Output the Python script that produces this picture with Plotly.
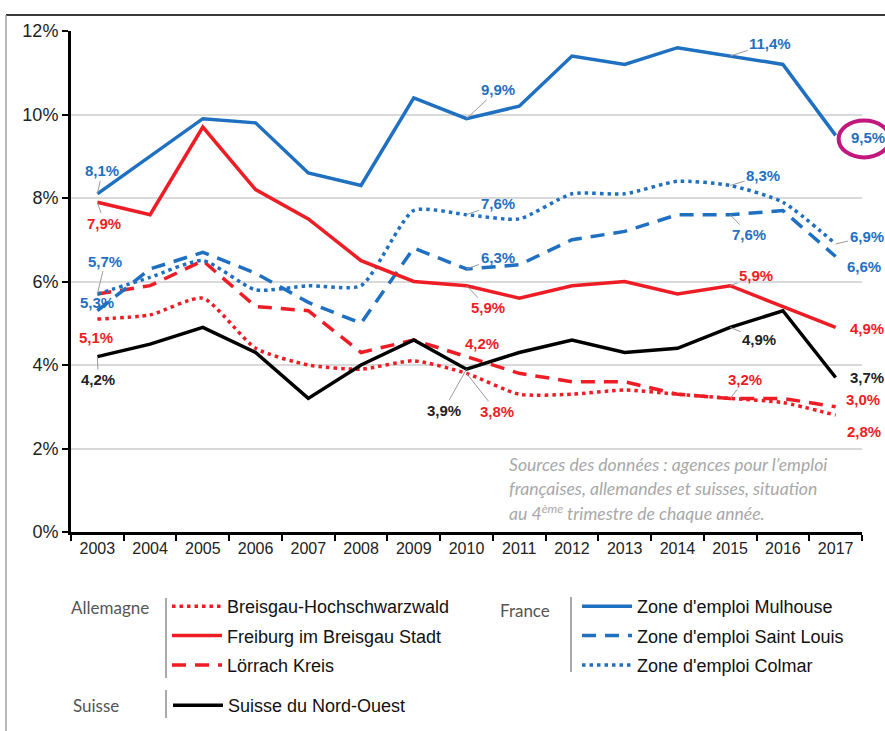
import plotly.graph_objects as go

# ---- data -------------------------------------------------------------
years = ["2003", "2004", "2005", "2006", "2007", "2008", "2009", "2010",
         "2011", "2012", "2013", "2014", "2015", "2016", "2017"]

breisgau = [5.1, 5.2, 5.6, 4.4, 4.0, 3.9, 4.1, 3.8, 3.3, 3.3, 3.4, 3.3, 3.2, 3.1, 2.8]
freiburg = [7.9, 7.6, 9.7, 8.2, 7.5, 6.5, 6.0, 5.9, 5.6, 5.9, 6.0, 5.7, 5.9, 5.4, 4.9]
loerrach = [5.7, 5.9, 6.5, 5.4, 5.3, 4.3, 4.6, 4.2, 3.8, 3.6, 3.6, 3.3, 3.2, 3.2, 3.0]
mulhouse = [8.1, 9.0, 9.9, 9.8, 8.6, 8.3, 10.4, 9.9, 10.2, 11.4, 11.2, 11.6, 11.4, 11.2, 9.5]
saint_louis = [5.3, 6.3, 6.7, 6.2, 5.5, 5.0, 6.8, 6.3, 6.4, 7.0, 7.2, 7.6, 7.6, 7.7, 6.6]
colmar = [5.7, 6.1, 6.5, 5.8, 5.9, 5.9, 7.7, 7.6, 7.5, 8.1, 8.1, 8.4, 8.3, 7.9, 6.9]
suisse = [4.2, 4.5, 4.9, 4.3, 3.2, 4.0, 4.6, 3.9, 4.3, 4.6, 4.3, 4.4, 4.9, 5.3, 3.7]

y_ticks = [0, 2, 4, 6, 8, 10, 12]

group_names = ["Allemagne", "France", "Suisse"]
source_lines = [
    "Sources des données : agences pour l’emploi",
    "françaises, allemandes et suisses, situation",
    "au 4<sup>ème</sup> trimestre de chaque année.",
]

BLUE = "#1f70c1"
RED = "#ee1d25"
BLACK = "#000000"

# name, values, colour, dash, shape, legend
series = {
    "breisgau": ("Breisgau-Hochschwarzwald", breisgau, RED, "3.5px,4px", "spline", "legend"),
    "freiburg": ("Freiburg im Breisgau Stadt", freiburg, RED, "solid", "linear", "legend"),
    "loerrach": ("Lörrach Kreis", loerrach, RED, "14px,9px", "linear", "legend"),
    "mulhouse": ("Zone d'emploi Mulhouse", mulhouse, BLUE, "solid", "linear", "legend2"),
    "saint_louis": ("Zone d'emploi Saint Louis", saint_louis, BLUE, "14px,9px", "linear", "legend2"),
    "colmar": ("Zone d'emploi Colmar", colmar, BLUE, "3.5px,4px", "spline", "legend2"),
    "suisse": ("Suisse du Nord-Ouest", suisse, BLACK, "solid", "linear", "legend3"),
}

# data labels: series, year, text offset (px), leader line
labels = [
    ("mulhouse", "2003", 5, -23, True),
    ("freiburg", "2003", 7, 21, True),
    ("colmar", "2003", 8, -33, True),
    ("saint_louis", "2003", 0, -8, False),
    ("breisgau", "2003", -1, 18, False),
    ("suisse", "2003", 1, 23, True),
    ("mulhouse", "2010", 31, -29, True),
    ("colmar", "2010", 31, -11, True),
    ("saint_louis", "2010", 31, -11, True),
    ("freiburg", "2010", 21, 22, True),
    ("loerrach", "2010", 15, -13, False),
    ("suisse", "2010", -23, 41, True),
    ("breisgau", "2010", 30, 38, True),
    ("mulhouse", "2015", 40, -13, True),
    ("colmar", "2015", 33, -10, True),
    ("saint_louis", "2015", 19, 20, True),
    ("freiburg", "2015", 26, -10, True),
    ("suisse", "2015", 29, 12, True),
    ("loerrach", "2015", 15, -19, True),
    ("mulhouse", "2017", 32, 2, False),
    ("colmar", "2017", 31, -7, True),
    ("saint_louis", "2017", 28, 10, False),
    ("freiburg", "2017", 31, 1, False),
    ("suisse", "2017", 31, 0, False),
    ("loerrach", "2017", 27, -7, False),
    ("breisgau", "2017", 28, 16, False),
]

# ---- figure geometry --------------------------------------------------
W, H = 885, 731
ML, MR, MT, MB = 71, 23, 31, 199
PW, PH = W - ML - MR, H - MT - MB


def px_x(p):
    return (p - ML) / PW


def px_y(p):
    return (H - MB - p) / PH


fig = go.Figure()

draw_order = ["breisgau", "loerrach", "colmar", "saint_louis", "suisse", "freiburg", "mulhouse"]
legend_order = ["breisgau", "freiburg", "loerrach", "mulhouse", "saint_louis", "colmar", "suisse"]
for key in draw_order:
    name, vals, col, dash, shape, leg = series[key]
    fig.add_trace(go.Scatter(
        x=years, y=vals, name=name, mode="lines",
        line=dict(color=col, width=3.5, dash=dash, shape=shape, smoothing=0.6),
        legend=leg, legendgroup=key, legendrank=legend_order.index(key),
        hoverinfo="skip",
    ))


def fmt(v):
    return f"{v:.1f}".replace(".", ",") + "%"


annotations = []
for key, yr, dx, dy, leader in labels:
    name, vals, col, *_ = series[key]
    i = years.index(yr)
    v = vals[i]
    a = dict(x=i, y=v, xref="x", yref="y", text="<b>" + fmt(v) + "</b>",
             font=dict(family="Liberation Sans, Arial", size=15, color=col if col != BLACK else "#222"))
    if leader:
        a.update(showarrow=True, ax=dx, ay=dy, arrowhead=0, arrowwidth=1,
                 arrowcolor="#9a9a9a", standoff=0, startstandoff=0)
    else:
        a.update(showarrow=False, xshift=dx, yshift=-dy)
    annotations.append(a)

# group headings of the legend
group_pos = [(110, 607), (525, 610), (96, 705)]
for g, (gx, gy) in zip(group_names, group_pos):
    annotations.append(dict(x=px_x(gx), y=px_y(gy), xref="paper", yref="paper",
                            text=g, showarrow=False, xanchor="center", yanchor="middle",
                            font=dict(family="Lato, Roboto, sans-serif", size=17, color="#555")))

# source note
for i, line in enumerate(source_lines):
    annotations.append(dict(x=px_x(507), y=px_y(464 + 24 * i), xref="paper", yref="paper",
                            text="<i>" + line + "</i>", showarrow=False, xanchor="left", yanchor="middle",
                            font=dict(family="Lato, sans-serif", size=17.6, color="#a8a8a8"),
                            ))

shapes = []
# separators inside the legend
for (x0, y0, y1) in [(166, 598, 678), (571, 597, 672), (166, 690, 718)]:
    shapes.append(dict(type="line", xref="paper", yref="paper",
                       x0=px_x(x0), x1=px_x(x0), y0=px_y(y0), y1=px_y(y1),
                       line=dict(color="#555", width=1)))
# frame of the graphic
shapes.append(dict(type="line", xref="paper", yref="paper",
                   x0=px_x(6), x1=px_x(885), y0=px_y(15), y1=px_y(15),
                   line=dict(color="#3a3a3a", width=2)))
shapes.append(dict(type="line", xref="paper", yref="paper",
                   x0=px_x(6), x1=px_x(6), y0=px_y(15), y1=px_y(731),
                   line=dict(color="#a0a0a0", width=1.5)))
# highlight ring around the latest Mulhouse value: anchored on the last
# category centre (paper fraction) and on the value itself
last_cat_paper = (len(years) - 0.5) / len(years)
shapes.append(dict(type="circle", xref="paper", yref="y",
                   xsizemode="pixel", ysizemode="pixel",
                   xanchor=last_cat_paper, yanchor=mulhouse[-1],
                   x0=3, x1=54, y0=-22, y1=15,
                   line=dict(color="#c2187d", width=4)))

legend_common = dict(xanchor="left", yanchor="top", bgcolor="rgba(0,0,0,0)",
                     font=dict(family="Liberation Sans, Arial", size=18, color="#111"),
                     tracegroupgap=3, itemwidth=50, traceorder="grouped")

fig.update_layout(
    width=W, height=H, autosize=False,
    margin=dict(l=ML, r=MR, t=MT, b=MB, pad=0, autoexpand=False),
    paper_bgcolor="white", plot_bgcolor="white",
    showlegend=True,
    legend=dict(x=px_x(167), y=px_y(588), **legend_common),
    legend2=dict(x=px_x(577), y=px_y(588), **legend_common),
    legend3=dict(x=px_x(168), y=px_y(687), **legend_common),
    annotations=annotations,
    shapes=shapes,
    xaxis=dict(
        type="category", categoryorder="array", categoryarray=years,
        range=[-0.5, len(years) - 0.5],
        tickson="boundaries", ticks="outside", ticklen=6, tickwidth=2, tickcolor="black",
        showline=True, linecolor="black", linewidth=3, showgrid=False,
        tickfont=dict(family="Liberation Sans, Arial", size=16, color="#222"),
        tickangle=0, fixedrange=True, automargin=False,
    ),
    yaxis=dict(
        range=[0, 12], tickvals=y_ticks, ticktext=[f"{t}%" for t in y_ticks],
        ticks="outside", ticklen=6, tickwidth=2, tickcolor="black",
        showline=True, linecolor="black", linewidth=3,
        showgrid=True, gridcolor="#d9d9d9", gridwidth=1.5, zeroline=False,
        tickfont=dict(family="Liberation Sans, Arial", size=18, color="#222"),
        fixedrange=True, automargin=False,
    ),
)

fig.write_html("out.html", config={"displayModeBar": False})
